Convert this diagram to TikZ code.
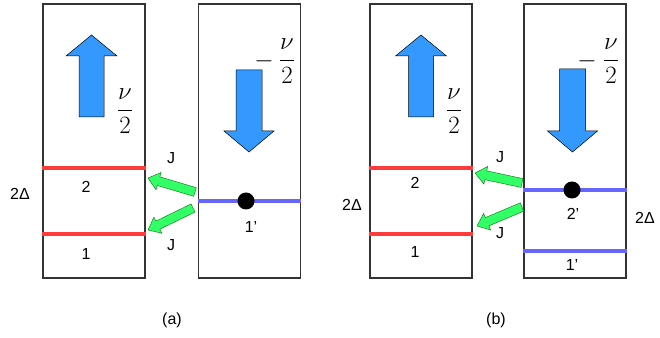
\documentclass[tikz,border=0pt]{standalone}
\usepackage{fontspec}
\setmainfont{Liberation Sans}
\usetikzlibrary{calc}
\definecolor{frame}{HTML}{333333}
\definecolor{spinblue}{HTML}{3399FF}
\definecolor{levelred}{HTML}{FF3B3B}
\definecolor{levelblue}{HTML}{6666FF}
\definecolor{hop}{HTML}{33FF66}

% block arrow: tail, tip, shaft half width, head half width, head length, style
\newcommand{\blockarrow}[6]{%
  \coordinate (hb) at ($(#2)!#5!(#1)$);
  \filldraw[#6] ($(#1)!#3!90:(#2)$) -- ($(hb)!#3!90:(#2)$) -- ($(hb)!#4!90:(#2)$) -- (#2)
    -- ($(hb)!#4!-90:(#2)$) -- ($(hb)!#3!-90:(#2)$) -- ($(#1)!#3!-90:(#2)$) -- cycle;}

\tikzset{
  levelbox/.style={draw=frame, line width=1.8pt, minimum width=102pt, minimum height=274pt, inner sep=0pt},
  redlevel/.style={levelred, line width=4pt},
  bluelevel/.style={levelblue, line width=4pt},
  spin/.style={fill=spinblue, draw=black, line width=0.5pt},
  hopping/.style={fill=hop, draw=green!45!black, line width=0.4pt},
  electron/.style={circle, fill=black, minimum width=16pt, minimum height=17pt, inner sep=0pt},
  lbl/.style={font=\fontsize{16}{19}\selectfont, inner sep=0pt},
  frac/.style={font=\fontsize{30}{36}\selectfont, inner sep=0pt}
}

\begin{document}
\begin{tikzpicture}[x=1pt, y=1pt]
  \useasboundingbox (0,0) rectangle (660,337);

  % (a)
  \node[levelbox] (La) at (94,196) {};
  \node[levelbox] (Ra) at (249.5,196) {};
  \draw[redlevel] (La.west |- 0,169) -- (La.east |- 0,169);
  \draw[redlevel] (La.west |- 0,103) -- (La.east |- 0,103);
  \draw[bluelevel] (Ra.west |- 0,136) -- (Ra.east |- 0,136);
  \node[electron] (ea) at (246,136) {};
  \node[lbl] (a2) at (86,150) {2};
  \node[lbl] (a1) at (86,83) {1};
  \node[lbl] (adelta) at (20,143) {2Δ};
  \node[lbl] (a1p) at (251,110) {1'};
  \node[frac] (afracL) at (125,226) {$\displaystyle\frac{\nu}{2}$};
  \node[frac] (aminus) at (264,276) {$-$};
  \node[frac] (afracR) at (287,276) {$\displaystyle\frac{\nu}{2}$};
  \coordinate (aup0) at (91.5,220); \coordinate (aup1) at (91.5,302);
  \coordinate (adn0) at (249,267); \coordinate (adn1) at (249,185);
  \blockarrow{aup0}{aup1}{12.5pt}{25.5pt}{21pt}{spin}
  \blockarrow{adn0}{adn1}{13pt}{25pt}{21pt}{spin}
  \coordinate (ahopA0) at (195,145); \coordinate (ahopA1) at (148,159);
  \coordinate (ahopB0) at (193,129); \coordinate (ahopB1) at (148,107);
  \blockarrow{ahopA0}{ahopA1}{4.5pt}{9pt}{11pt}{hopping}
  \blockarrow{ahopB0}{ahopB1}{4.5pt}{9pt}{11pt}{hopping}
  \node[lbl] (aJ1) at (171,179) {J};
  \node[lbl] (aJ2) at (171,92) {J};
  \node[lbl] (acap) at (172,17) {(a)};

  % (b)
  \node[levelbox] (Lb) at (421,196) {};
  \node[levelbox] (Rb) at (575,196) {};
  \draw[redlevel] (Lb.west |- 0,169) -- (Lb.east |- 0,169);
  \draw[redlevel] (Lb.west |- 0,103) -- (Lb.east |- 0,103);
  \draw[bluelevel] (Rb.west |- 0,147) -- (Rb.east |- 0,147);
  \draw[bluelevel] (Rb.west |- 0,86) -- (Rb.east |- 0,86);
  \node[electron] (eb) at (572,147) {};
  \node[lbl] (b2) at (415,154) {2};
  \node[lbl] (b1) at (415,85) {1};
  \node[lbl] (bdeltaL) at (352,132) {2Δ};
  \node[lbl] (bdeltaR) at (645,119) {2Δ};
  \node[lbl] (b2p) at (573,123) {2'};
  \node[lbl] (b1p) at (572,72) {1'};
  \node[frac] (bfracL) at (454,226) {$\displaystyle\frac{\nu}{2}$};
  \node[frac] (bminus) at (587,276) {$-$};
  \node[frac] (bfracR) at (611,276) {$\displaystyle\frac{\nu}{2}$};
  \coordinate (bup0) at (421,220); \coordinate (bup1) at (421,302);
  \coordinate (bdn0) at (572.5,268); \coordinate (bdn1) at (572.5,185);
  \blockarrow{bup0}{bup1}{12.5pt}{25.5pt}{21pt}{spin}
  \blockarrow{bdn0}{bdn1}{13pt}{25pt}{21pt}{spin}
  \coordinate (bhopA0) at (522,154); \coordinate (bhopA1) at (475,164);
  \coordinate (bhopB0) at (522,130); \coordinate (bhopB1) at (477,111);
  \blockarrow{bhopA0}{bhopA1}{4.5pt}{9pt}{11pt}{hopping}
  \blockarrow{bhopB0}{bhopB1}{4.5pt}{9pt}{11pt}{hopping}
  \node[lbl] (bJ1) at (500,180) {J};
  \node[lbl] (bJ2) at (500,104) {J};
  \node[lbl] (bcap) at (496,17) {(b)};
\end{tikzpicture}
\end{document}
